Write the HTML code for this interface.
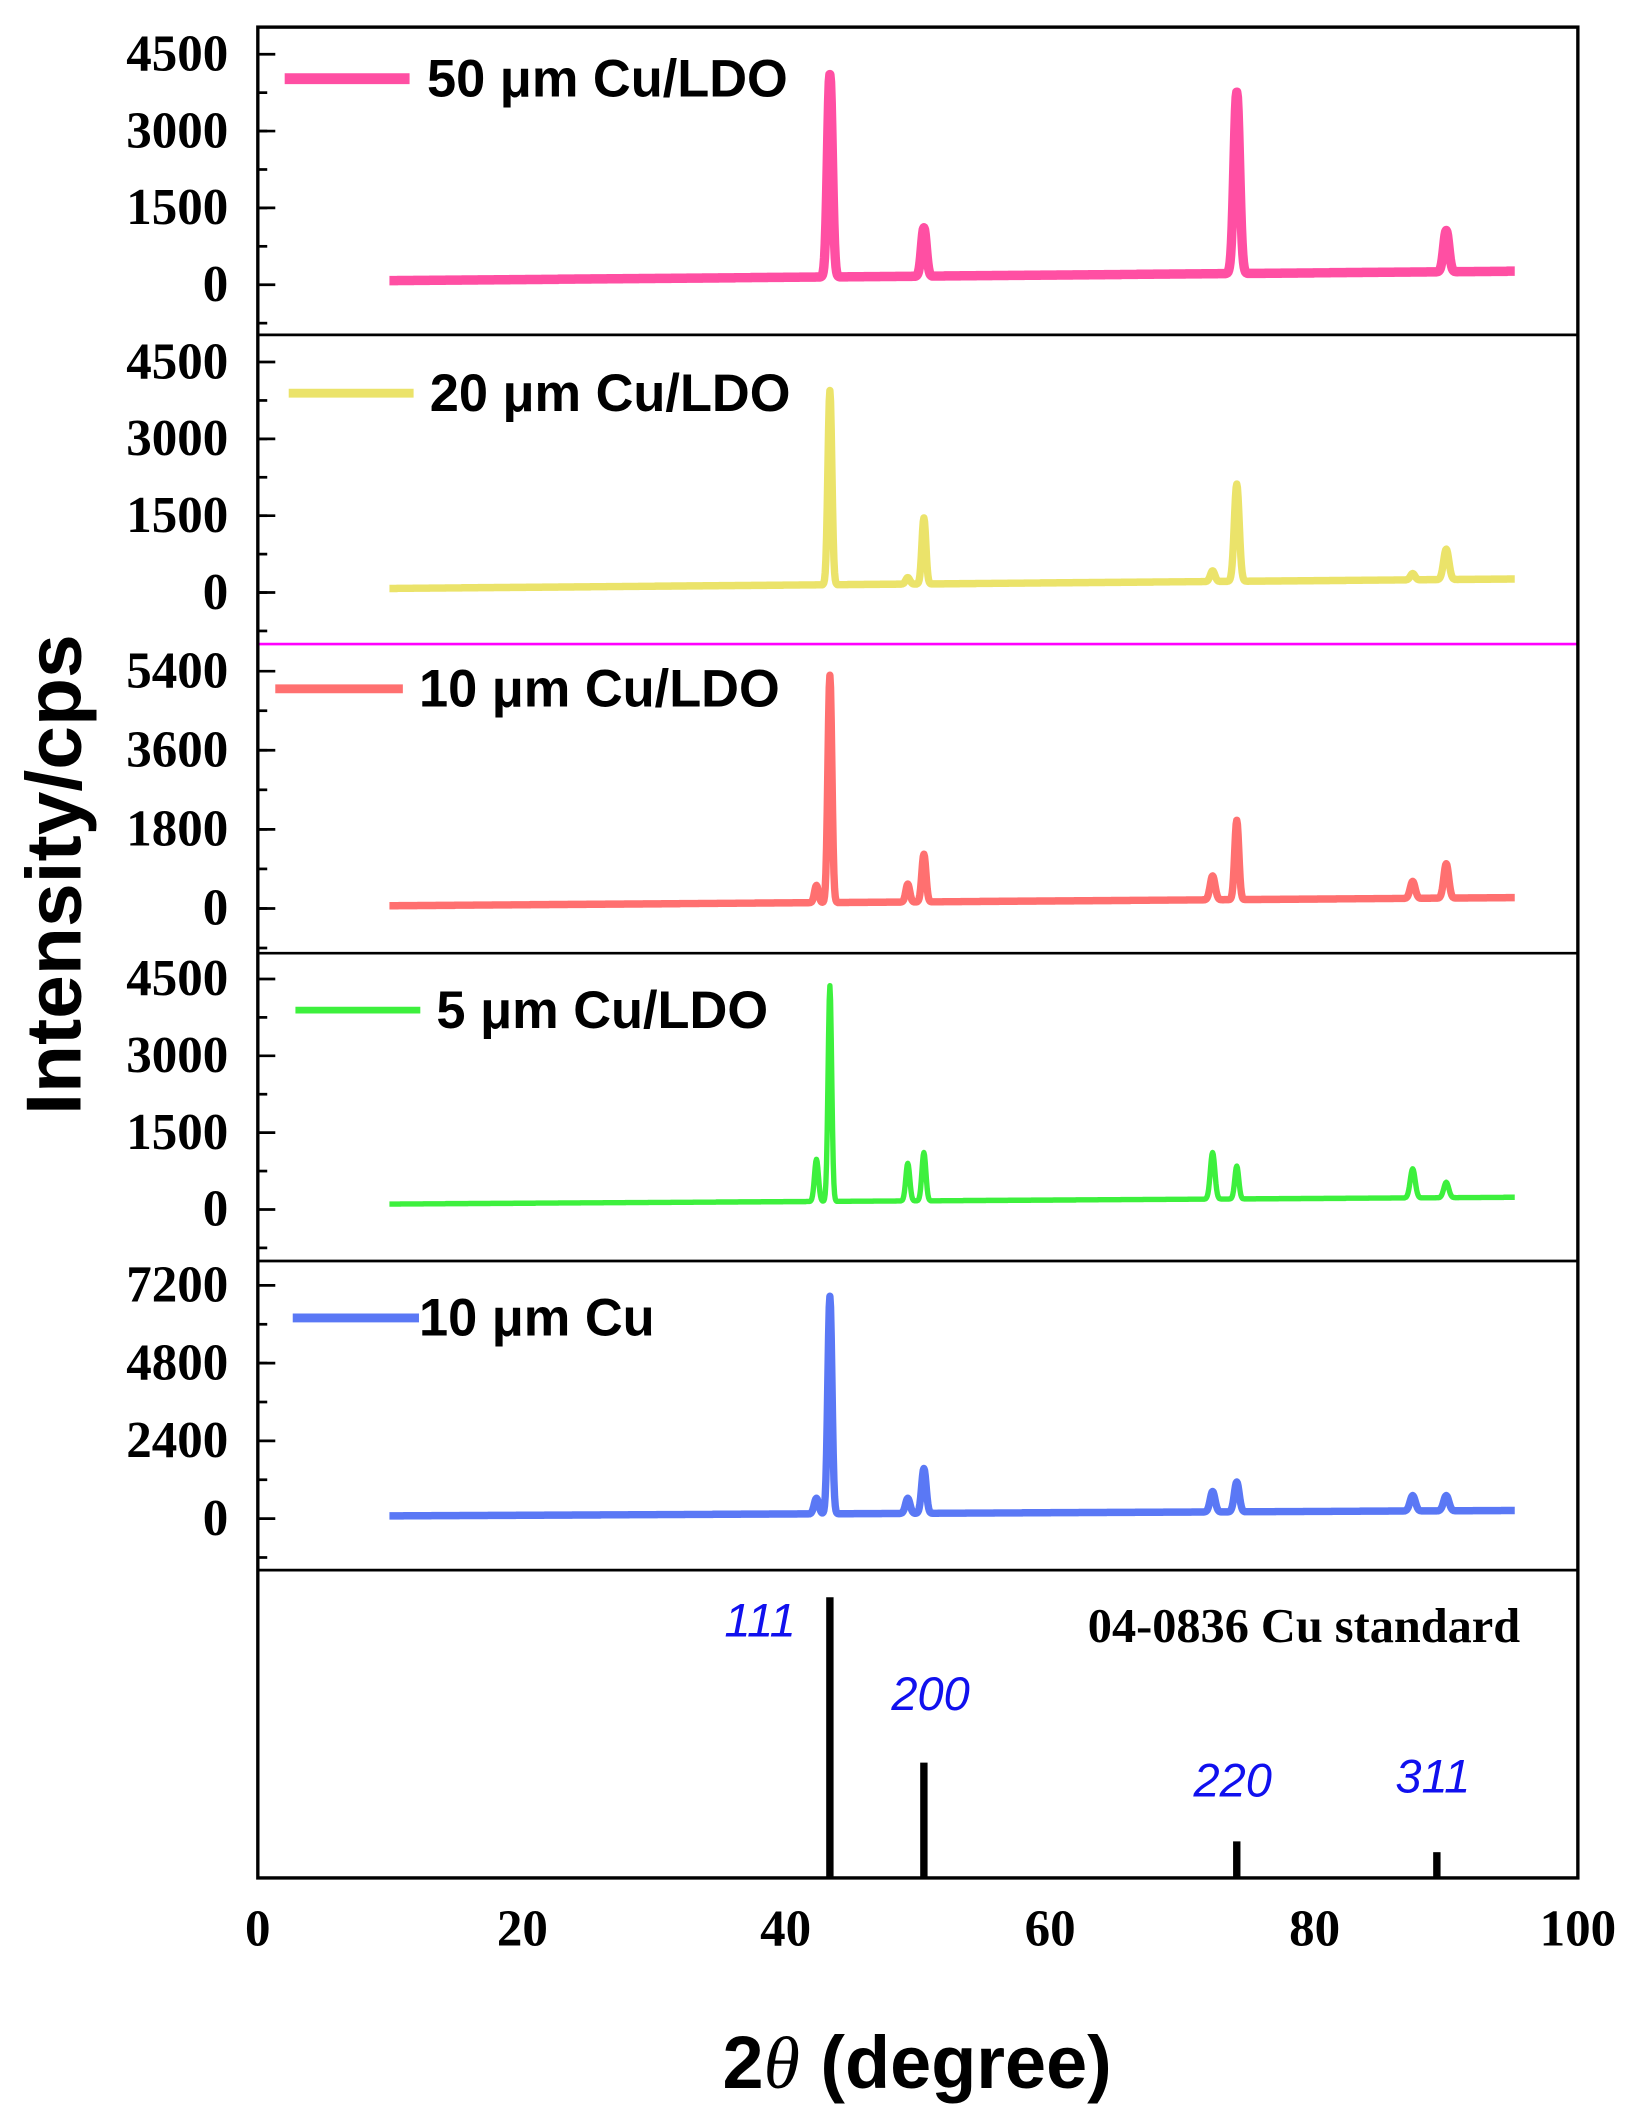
<!DOCTYPE html>
<html><head><meta charset="utf-8"><style>
html,body{margin:0;padding:0;background:#fff;}
svg{display:block}
</style></head><body>
<svg id="s" width="1645" height="2122" viewBox="0 0 1225 1565" preserveAspectRatio="none" xmlns="http://www.w3.org/2000/svg">
<rect width="1225" height="1565" fill="#fff"/>
<g id="g"></g>
<line x1="192" y1="475" x2="1175" y2="475" stroke="#ff00ff" stroke-width="2"/>
<rect x="192" y="20" width="983" height="1365" fill="none" stroke="#000" stroke-width="2.5"/>
<g stroke="#000" stroke-width="2">
<line x1="192" y1="247" x2="1175" y2="247"/><line x1="192" y1="703" x2="1175" y2="703"/>
<line x1="192" y1="930" x2="1175" y2="930"/><line x1="192" y1="1158" x2="1175" y2="1158"/>
</g>
<g font-family="Liberation Serif, serif" font-weight="bold" font-size="38" text-anchor="middle">
<text x="192" y="1435">0</text><text x="389" y="1435">20</text><text x="585" y="1435">40</text>
<text x="782" y="1435">60</text><text x="979" y="1435">80</text><text x="1175" y="1435">100</text>
</g>
<text x="683" y="1540" font-family="Liberation Sans, sans-serif" font-weight="bold" font-size="55" text-anchor="middle">2<tspan font-family="Liberation Serif, serif" font-style="italic" font-weight="normal">θ</tspan> (degree)</text>
<text transform="translate(60,645) rotate(-90)" font-family="Liberation Sans, sans-serif" font-weight="bold" font-size="58" text-anchor="middle">Intensity/cps</text>
<g font-family="Liberation Sans, sans-serif" font-style="italic" font-size="35" fill="#1010ee" text-anchor="middle">
<text x="566" y="1207">111</text><text x="693" y="1261">200</text><text x="918" y="1325">220</text><text x="1067" y="1322">311</text>
</g>
<text x="1132" y="1211" font-family="Liberation Serif, serif" font-weight="bold" font-size="36" text-anchor="end">04-0836 Cu standard</text>
<g stroke="#000" stroke-width="5.5">
<line x1="618" y1="1178" x2="618" y2="1385"/><line x1="688" y1="1300" x2="688" y2="1385"/>
<line x1="921" y1="1358" x2="921" y2="1385"/><line x1="1070" y1="1366" x2="1070" y2="1385"/>
</g>
</svg>
<script>
var g=document.getElementById('g');var NS='http://www.w3.org/2000/svg';
function el(t,a,txt){var e=document.createElementNS(NS,t);for(var k in a)e.setAttribute(k,a[k]);if(txt)e.textContent=txt;g.appendChild(e);return e;}
var panels=[
{top:20,bot:247,t0:40,z:210,labels:['4500','3000','1500','0'],c:'#ff4fa3',w:7,b0:207,b1:200,name:'50 μm Cu/LDO',lx0:212,lx1:305,ly:58,tx:318,
 pk:[[618,55,2.6],[688,168,2.6],[921,68,3.0],[1077,170,2.8]]},
{top:247,bot:475,t0:267,z:437,labels:['4500','3000','1500','0'],c:'#ebe36a',w:5.5,b0:434,b1:427,name:'20 μm Cu/LDO',lx0:215,lx1:308,ly:290,tx:320,
 pk:[[618,288,2.1],[688,382,2.1],[921,357,2.6],[1077,405,2.8],[903,421,2.4],[1052,423,2.4],[676,426,2.2]]},
{top:475,bot:703,t0:495,z:670,labels:['5400','3600','1800','0'],c:'#ff7070',w:5.5,b0:668,b1:662,name:'10 μm Cu/LDO',lx0:205,lx1:300,ly:508,tx:312,
 pk:[[618,498,2.1],[688,630,2.2],[921,605,2.2],[1077,637,2.6],[903,646,2.6],[1052,650,2.6],[608,653,2.1],[676,652,2.1]]},
{top:703,bot:930,t0:722,z:892,labels:['4500','3000','1500','0'],c:'#3df03d',w:4,b0:888,b1:883,name:'5 μm Cu/LDO',lx0:220,lx1:313,ly:745,tx:325,
 pk:[[618,727,1.9],[608,855,2.1],[676,858,2.1],[688,850,2.1],[903,850,2.4],[921,860,2.1],[1052,862,2.6],[1077,872,2.6]]},
{top:930,bot:1158,t0:948,z:1120,labels:['7200','4800','2400','0'],c:'#5a78f5',w:5.5,b0:1118,b1:1114,name:'10 μm Cu',lx0:218,lx1:312,ly:972,tx:312,
 pk:[[618,956,2.2],[608,1105,2.4],[676,1105,2.4],[688,1083,2.4],[903,1100,2.6],[921,1093,2.6],[1052,1103,2.8],[1077,1103,2.8]]}
];
panels.forEach(function(p){
 var step=(p.z-p.t0)/3;
 for(var i=0;i<4;i++){var y=p.t0+i*step;
  el('text',{x:170,y:y+12,'font-family':'Liberation Serif, serif','font-weight':'bold','font-size':'38','text-anchor':'end'},p.labels[i]);
  el('line',{x1:192,y1:y,x2:205,y2:y,stroke:'#000','stroke-width':2});}
 for(var y=p.t0-step/2;y<=p.bot;y+=step/2){if(y<p.top+2)continue;
  if(Math.abs(((y-p.t0)/step)%1)<0.01)continue;
  el('line',{x1:192,y1:y,x2:199,y2:y,stroke:'#000','stroke-width':2});}
 var d='';
 for(var x=290;x<=1128;x+=0.5){var y=p.b0+(p.b1-p.b0)*(x-290)/838;var base=y;
  p.pk.forEach(function(k){var h=base-k[1];y-=h*Math.exp(-Math.pow((x-k[0])/k[2],2));});
  d+=(d?'L':'M')+x+' '+y.toFixed(1);}
 el('path',{d:d,fill:'none',stroke:p.c,'stroke-width':p.w,'stroke-linejoin':'round'});
 el('line',{x1:p.lx0,y1:p.ly,x2:p.lx1,y2:p.ly,stroke:p.c,'stroke-width':p.w+1});
 el('text',{x:p.tx,y:p.ly+13,'font-family':'Liberation Sans, sans-serif','font-weight':'bold','font-size':'39'},p.name);
});
</script>
</body></html>
